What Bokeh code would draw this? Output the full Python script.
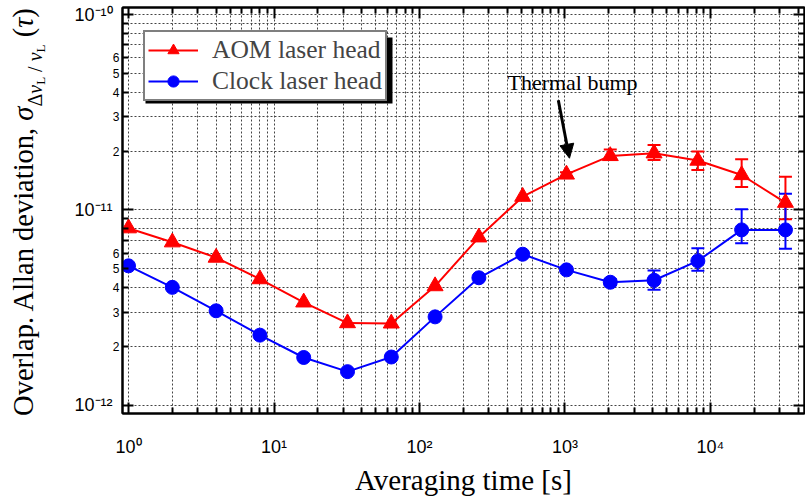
import numpy as np
from bokeh.plotting import figure
from bokeh.layouts import row
from bokeh.models import (LogAxis, Label, Legend, LegendItem, Whisker, ColumnDataSource,
                          Arrow, NormalHead, TeeHead, FixedTicker, Range1d, BoxAnnotation,
                          CustomJSTickFormatter, Div)
from bokeh.embed import file_html
from bokeh.resources import INLINE

# ---------------- data ----------------
tau = [1, 2, 4, 8, 16, 32, 64, 128, 256, 512, 1024, 2048, 4096, 8192, 16384, 32768]
aom = [8.07e-12, 6.84e-12, 5.71e-12, 4.43e-12, 3.37e-12, 2.64e-12, 2.63e-12, 4.08e-12,
       7.25e-12, 1.17e-11, 1.52e-11, 1.89e-11, 1.95e-11, 1.79e-11, 1.51e-11, 1.09e-11]
clock = [5.18e-12, 4.02e-12, 3.05e-12, 2.29e-12, 1.76e-12, 1.49e-12, 1.77e-12, 2.84e-12,
         4.50e-12, 5.94e-12, 4.94e-12, 4.27e-12, 4.37e-12, 5.49e-12, 7.91e-12, 7.91e-12]

aom_err_tau = [1024, 2048, 4096, 8192, 16384, 32768]
aom_err_lo = [1.48e-11, 1.80e-11, 1.80e-11, 1.60e-11, 1.31e-11, 8.97e-12]
aom_err_hi = [1.56e-11, 2.04e-11, 2.15e-11, 1.99e-11, 1.82e-11, 1.48e-11]

clock_err_tau = [2048, 4096, 8192, 16384, 32768]
clock_err_lo = [4.12e-12, 3.91e-12, 4.89e-12, 6.76e-12, 6.33e-12]
clock_err_hi = [4.43e-12, 4.90e-12, 6.38e-12, 1.01e-11, 1.21e-11]

x_major = [1, 10, 100, 1000, 10000]
y_major = [1e-12, 1e-11, 1e-10]
y_minor_labelled = [2, 3, 4, 5, 6]

annot_text = "Thermal bump"
annot_x, annot_y = 1127, 4.5e-11
arrow_start = (900, 3.64e-11)
arrow_end = (1074, 1.84e-11)

x_lim = (0.909, 44300)
y_lim = (9.1e-13, 1.086e-10)

SANS = "Liberation Sans"
SERIF = "Liberation Serif"

# ---------------- main figure ----------------
p = figure(width=755, height=498, x_axis_type="log", y_axis_type="log",
           x_range=Range1d(*x_lim), y_range=Range1d(*y_lim),
           output_backend="svg", toolbar_location=None,
           min_border_left=72, min_border_right=1, min_border_top=7, min_border_bottom=84)
p.outline_line_color = "black"
p.outline_line_width = 2
p.background_fill_color = "white"
p.border_fill_color = "white"

x_minor = [m * 10 ** e for e in range(-1, 5) for m in range(2, 10)]
y_minor = [m * 10.0 ** e for e in range(-13, -9) for m in range(2, 10)]
xticker = FixedTicker(ticks=[0.1] + x_major + [1e5], minor_ticks=x_minor)
yticker = FixedTicker(ticks=[1e-13] + y_major + [1e-9], minor_ticks=y_minor)

pow_fmt = CustomJSTickFormatter(code="""
const sup = {"-": "\\u207B", "0": "\\u2070", "1": "\\u00B9", "2": "\\u00B2", "3": "\\u00B3",
             "4": "\\u2074", "5": "\\u2075", "6": "\\u2076", "7": "\\u2077", "8": "\\u2078",
             "9": "\\u2079"};
const e = Math.round(Math.log10(tick));
return "10" + String(e).split("").map(c => sup[c]).join("");
""")
mant_fmt = CustomJSTickFormatter(code="""
const e = Math.floor(Math.log10(tick) + 1e-9);
return String(Math.round(tick / Math.pow(10, e)));
""")


def style_axis(ax, ticker, labels=False):
    ax.ticker = ticker
    ax.axis_line_color = "black"
    ax.axis_line_width = 2
    ax.major_tick_line_color = "black"
    ax.major_tick_line_width = 2
    ax.minor_tick_line_color = "black"
    ax.minor_tick_line_width = 2
    ax.major_tick_in = 11
    ax.major_tick_out = 0
    ax.minor_tick_in = 6
    ax.minor_tick_out = 0
    if not labels:
        ax.major_label_text_font_size = "1px"
        ax.major_label_text_alpha = 0
        ax.major_label_standoff = 0


def label_axis(ax, ticker, fmt, size, standoff):
    ax.ticker = ticker
    ax.formatter = fmt
    ax.axis_line_color = None
    ax.major_tick_line_color = None
    ax.minor_tick_line_color = None
    ax.major_tick_in = 0
    ax.major_tick_out = 0
    ax.minor_tick_in = 0
    ax.minor_tick_out = 0
    ax.major_label_text_font = SANS
    ax.major_label_text_font_size = size
    ax.major_label_text_color = "black"
    ax.major_label_standoff = standoff


# bottom axis: ticks + labels + title
xa = p.xaxis[0]
style_axis(xa, xticker, labels=True)
xa.formatter = pow_fmt
xa.major_label_text_font = SANS
xa.major_label_text_font_size = "18px"
xa.major_label_text_color = "black"
xa.major_label_standoff = 23
xa.axis_label = "Averaging time [s]"
xa.axis_label_text_font = SERIF
xa.axis_label_text_font_size = "29px"
xa.axis_label_text_font_style = "normal"
xa.axis_label_text_color = "black"
xa.axis_label_standoff = 4

# left: tick axis, then minor-digit labels, then decade labels
style_axis(p.yaxis[0], yticker)
minor_lab_ticker = FixedTicker(ticks=[m * 10.0 ** d for d in (-12, -11) for m in y_minor_labelled])
ya_minor = LogAxis()
label_axis(ya_minor, minor_lab_ticker, mant_fmt, "12px", 3)
p.add_layout(ya_minor, "left")
ya_major = LogAxis()
label_axis(ya_major, FixedTicker(ticks=y_major), pow_fmt, "18px", -3)
p.add_layout(ya_major, "left")

top_ax = LogAxis()
right_ax = LogAxis()
style_axis(top_ax, xticker)
style_axis(right_ax, yticker)
p.add_layout(top_ax, "above")
p.add_layout(right_ax, "right")

for g, t in ((p.xgrid[0], xticker), (p.ygrid[0], yticker)):
    g.ticker = t
    g.grid_line_color = "#444444"
    g.grid_line_dash = "2 2"
    g.grid_line_width = 1
    g.minor_grid_line_color = "#444444"
    g.minor_grid_line_dash = "2 2"
    g.minor_grid_line_width = 1

# ---------------- data glyphs ----------------
src = ColumnDataSource(dict(tau=tau, aom=aom, clock=clock))
aom_err = ColumnDataSource(dict(tau=aom_err_tau, lo=aom_err_lo, hi=aom_err_hi))
clock_err = ColumnDataSource(dict(tau=clock_err_tau, lo=clock_err_lo, hi=clock_err_hi))

for es, col in ((aom_err, "#ff0000"), (clock_err, "#0000ff")):
    w = Whisker(base="tau", lower="lo", upper="hi", source=es, line_color=col, line_width=2,
                upper_head=TeeHead(size=13, line_color=col, line_width=2),
                lower_head=TeeHead(size=13, line_color=col, line_width=2))
    p.add_layout(w)

l1 = p.line("tau", "aom", source=src, line_color="#ff0000", line_width=2)
s1 = p.scatter("tau", "aom", source=src, marker="triangle", size=16,
               fill_color="#ff0000", line_color="#ff0000", line_width=1)
l2 = p.line("tau", "clock", source=src, line_color="#0000ff", line_width=2)
s2 = p.scatter("tau", "clock", source=src, marker="circle", size=14,
               fill_color="#0000ff", line_color="#0000ff", line_width=1)

# ---------------- legend (with drop shadow) ----------------
shadow = BoxAnnotation(left=23, right=270, bottom=310, top=376,
                       left_units="screen", right_units="screen",
                       top_units="screen", bottom_units="screen",
                       fill_color="black", fill_alpha=1, line_alpha=0)
p.add_layout(shadow)
legend = Legend(items=[LegendItem(label="AOM laser head", renderers=[l1, s1]),
                       LegendItem(label="Clock laser head", renderers=[l2, s2])],
                location=(21, 312), padding=3, spacing=1, margin=0,
                label_height=28, glyph_height=28, glyph_width=50, label_standoff=14,
                label_text_font=SERIF, label_text_font_size="25.5px",
                border_line_color="black", border_line_width=2,
                background_fill_color="white", background_fill_alpha=1)
p.add_layout(legend, "center")

# ---------------- annotation ----------------
p.add_layout(Label(x=annot_x, y=annot_y, text=annot_text, text_align="center",
                   text_baseline="alphabetic", text_font=SERIF,
                   text_font_size="22px", text_color="black"))
p.add_layout(Arrow(x_start=arrow_start[0], y_start=arrow_start[1],
                   x_end=arrow_end[0], y_end=arrow_end[1], line_width=3, line_color="black",
                   end=NormalHead(size=14, fill_color="black", line_color="black")))

# ---------------- y title (rotated HTML text with sub/subscripts) ----------------
sub1 = "font-size:20px;line-height:0;vertical-align:-9px;"
sub2 = "font-size:13px;line-height:0;vertical-align:-3px;"
ytitle_html = (
    '<div style="position:relative;width:50px;height:498px;overflow:visible;">'
    '<div style="position:absolute;left:0;top:0;width:440px;height:40px;line-height:40px;'
    'transform-origin:0 0;transform:translate(4px,432px) rotate(-90deg);'
    "text-align:center;white-space:nowrap;font-family:'Liberation Serif',serif;"
    'font-size:28.5px;color:black;">'
    'Overlap. Allan deviation, <i>σ</i>'
    f'<span style="{sub1}">Δ<i>ν</i><span style="{sub2}">L</span> / <i>ν</i>'
    f'<span style="{sub2}">L</span></span>'
    '&nbsp;(<i>τ</i>)'
    '</div></div>'
)
ytitle = Div(text=ytitle_html, width=50, height=498, margin=0)

layout = row(ytitle, p, spacing=0)
open("out.html", "w").write(file_html(layout, INLINE))
